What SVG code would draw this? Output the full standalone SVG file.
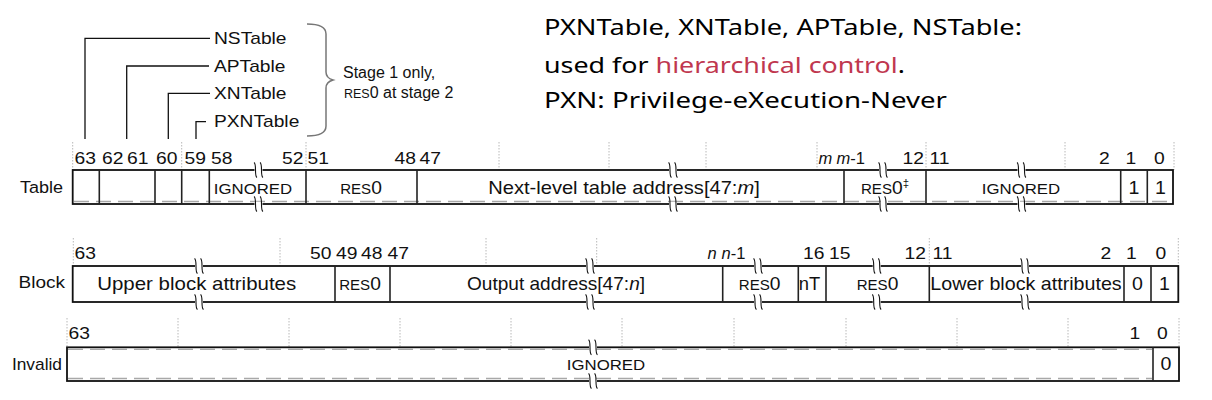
<svg xmlns="http://www.w3.org/2000/svg" width="1212" height="400" viewBox="0 0 1212 400">
<style>
text{font-family:"Liberation Sans",Arial,Helvetica,sans-serif;fill:#111}
.n{font-size:16.5px}
.f{font-size:17.5px}
.r0{font-size:18.5px}
.rs{font-size:14.5px}
.sc{font-size:15px}
.lbl{font-size:16px}
.rl{font-size:17px}
.it{font-style:italic}
.box{fill:#fff;stroke:#111;stroke-width:1.8}
.div{stroke:#222;stroke-width:1.6}
.grid{stroke:#b8b8b8;stroke-width:1;stroke-dasharray:1.5 1.5}
.gd{stroke:#a8a8a8;stroke-width:1.5;stroke-dasharray:15 7;fill:none}
.conn{fill:none;stroke:#111;stroke-width:1.3}
.brace{fill:none;stroke:#777;stroke-width:1.5}
.note{font-family:"Noto Sans","Open Sans",sans-serif;font-size:22px;fill:#000}
.red{fill:#c0374f}
</style>
<defs>
<g id="brk"><rect x="-4" y="-2.2" width="8" height="4.4" fill="#fff"/><path d="M-4.5,-7.5 C-1.5,-6 -4.5,6 -1.5,7.5 M1.5,-7.5 C4.5,-6 1.5,6 4.5,7.5" fill="none" stroke="#111" stroke-width="1.1"/></g>
</defs>
<rect width="1212" height="400" fill="#fff"/>

<!-- notes -->
<g id="notes">
<text class="note" x="544" y="35" textLength="478" lengthAdjust="spacingAndGlyphs">PXNTable, XNTable, APTable, NSTable:</text>
<text class="note" x="544" y="72.5" textLength="361" lengthAdjust="spacingAndGlyphs">used for <tspan class="red">hierarchical control</tspan>.</text>
<text class="note" x="544" y="107.5" textLength="403" lengthAdjust="spacingAndGlyphs">PXN: Privilege-eXecution-Never</text>
</g>

<!-- connectors -->
<g id="connectors">
<path class="conn" d="M85,139 V38.3 H210"/>
<path class="conn" d="M126.7,139 V66 H209"/>
<path class="conn" d="M168.3,139 V93.3 H210"/>
<path class="conn" d="M196,139 V121.7 H206"/>
<path class="brace" d="M307,24 Q326,24 326,34 V72 Q326,78 333,80 Q326,82 326,88 V126 Q326,136 307,136"/>
</g>

<g id="lbl-NSTable"><text class="lbl" transform="translate(214 44) scale(1.2 1)">NSTable</text></g>
<g id="lbl-APTable"><text class="lbl" transform="translate(214 71.7) scale(1.2 1)">APTable</text></g>
<g id="lbl-XNTable"><text class="lbl" transform="translate(214 99) scale(1.2 1)">XNTable</text></g>
<g id="lbl-PXNTable"><text class="lbl" transform="translate(214 127) scale(1.2 1)">PXNTable</text></g>
<g id="lbl-stage">
<text class="lbl" x="343" y="78">Stage 1 only,</text>
<text class="lbl" x="344" y="98"><tspan font-size="12.5">RES</tspan>0 at stage 2</text>
</g>

<!-- Table row -->
<g id="table-row">
<g class="grid-lines">
<line class="grid" x1="72.7" y1="142" x2="72.7" y2="170"/>
<line class="grid" x1="181.7" y1="142" x2="181.7" y2="170"/>
<line class="grid" x1="306" y1="142" x2="306" y2="170"/>
<line class="grid" x1="499" y1="142" x2="499" y2="170"/>
<line class="grid" x1="609" y1="142" x2="609" y2="170"/>
<line class="grid" x1="706" y1="142" x2="706" y2="170"/>
<line class="grid" x1="817" y1="142" x2="817" y2="170"/>
<line class="grid" x1="926" y1="142" x2="926" y2="170"/>
<line class="grid" x1="1065" y1="142" x2="1065" y2="170"/>
<line class="grid" x1="1174" y1="142" x2="1174" y2="170"/>
</g>
<text class="rl" text-anchor="end" transform="translate(63 193) scale(1.06 1)">Table</text>
<rect class="box" x="72.7" y="170" width="1100.3" height="34"/>
<line class="gd" x1="74" y1="201.5" x2="1172" y2="201.5"/>
<g class="dividers">
<line class="div" x1="99.3" y1="170" x2="99.3" y2="204"/>
<line class="div" x1="155" y1="170" x2="155" y2="204"/>
<line class="div" x1="181.7" y1="170" x2="181.7" y2="204"/>
<line class="div" x1="209.3" y1="170" x2="209.3" y2="204"/>
<line class="div" x1="306" y1="170" x2="306" y2="204"/>
<line class="div" x1="417" y1="170" x2="417" y2="204"/>
<line class="div" x1="844" y1="170" x2="844" y2="204"/>
<line class="div" x1="926" y1="170" x2="926" y2="204"/>
<line class="div" x1="1120.7" y1="170" x2="1120.7" y2="204"/>
<line class="div" x1="1147.3" y1="170" x2="1147.3" y2="204"/>
</g>
<use href="#brk" x="258.5" y="170"/><use href="#brk" x="258.5" y="204"/>
<use href="#brk" x="673" y="170"/><use href="#brk" x="673" y="204"/>
<use href="#brk" x="883" y="170"/><use href="#brk" x="883" y="204"/>
<use href="#brk" x="1021.5" y="170"/><use href="#brk" x="1021.5" y="204"/>
<g class="nums">
<text class="n" transform="translate(74.5 164) scale(1.17 1)">63</text>
<text class="n" transform="translate(102 164) scale(1.17 1)">62</text>
<text class="n" transform="translate(127 164) scale(1.17 1)">61</text>
<text class="n" transform="translate(156 164) scale(1.17 1)">60</text>
<text class="n" transform="translate(184.5 164) scale(1.17 1)">59</text>
<text class="n" transform="translate(211 164) scale(1.17 1)">58</text>
<text class="n" transform="translate(282 164) scale(1.17 1)">52</text>
<text class="n" transform="translate(307.5 164) scale(1.17 1)">51</text>
<text class="n" transform="translate(394.5 164) scale(1.17 1)">48</text>
<text class="n" transform="translate(419.5 164) scale(1.17 1)">47</text>
<text class="n it" x="818.5" y="164">m</text>
<text class="n" x="836.5" y="164"><tspan class="it">m</tspan>-1</text>
<text class="n" transform="translate(902.5 164) scale(1.17 1)">12</text>
<text class="n" transform="translate(929.5 164) scale(1.17 1)">11</text>
<text class="n" transform="translate(1099 164) scale(1.17 1)">2</text>
<text class="n" transform="translate(1125.5 164) scale(1.17 1)">1</text>
<text class="n" transform="translate(1154 164) scale(1.17 1)">0</text>
</g>
<g id="t-ignored1"><text class="sc" text-anchor="middle" transform="translate(253 193.5) scale(1.12 1)">IGNORED</text></g>
<g id="t-res0a"><text class="r0" text-anchor="middle" transform="translate(361 193.5) scale(1.04 1)"><tspan class="rs">RES</tspan>0</text></g>
<g id="t-nlta"><text class="f" text-anchor="middle" transform="translate(624 194) scale(1.15 1)">Next-level table address[47:<tspan class="it">m</tspan>]</text></g>
<g id="t-res0b"><text class="r0" text-anchor="middle" transform="translate(885 193.5) scale(1.04 1)"><tspan class="rs">RES</tspan>0<tspan font-size="11" dy="-7">‡</tspan></text></g>
<g id="t-ignored2"><text class="sc" text-anchor="middle" transform="translate(1021 193.5) scale(1.12 1)">IGNORED</text></g>
<g id="t-b1"><text class="f" text-anchor="middle" transform="translate(1134 193.5) scale(1.12 1)">1</text></g>
<g id="t-b0"><text class="f" text-anchor="middle" transform="translate(1160.5 193.5) scale(1.12 1)">1</text></g>
</g>

<!-- Block row -->
<g id="block-row">
<g class="grid-lines">
<line class="grid" x1="73.3" y1="238" x2="73.3" y2="266"/>
<line class="grid" x1="280" y1="238" x2="280" y2="266"/>
<line class="grid" x1="486" y1="238" x2="486" y2="266"/>
<line class="grid" x1="596.7" y1="238" x2="596.7" y2="266"/>
<line class="grid" x1="929.3" y1="238" x2="929.3" y2="266"/>
<line class="grid" x1="1178.3" y1="238" x2="1178.3" y2="266"/>
</g>
<text class="rl" text-anchor="end" transform="translate(65 288) scale(1.12 1)">Block</text>
<rect class="box" x="72.7" y="266" width="1105.6" height="36"/>
<g class="dividers">
<line class="div" x1="335" y1="266" x2="335" y2="302"/>
<line class="div" x1="390" y1="266" x2="390" y2="302"/>
<line class="div" x1="722.7" y1="266" x2="722.7" y2="302"/>
<line class="div" x1="798.3" y1="266" x2="798.3" y2="302"/>
<line class="div" x1="826" y1="266" x2="826" y2="302"/>
<line class="div" x1="929.3" y1="266" x2="929.3" y2="302"/>
<line class="div" x1="1124" y1="266" x2="1124" y2="302"/>
<line class="div" x1="1151" y1="266" x2="1151" y2="302"/>
</g>
<use href="#brk" x="199" y="266"/><use href="#brk" x="199" y="302"/>
<use href="#brk" x="590" y="266"/><use href="#brk" x="590" y="302"/>
<use href="#brk" x="758" y="266"/><use href="#brk" x="758" y="302"/>
<use href="#brk" x="876.7" y="266"/><use href="#brk" x="876.7" y="302"/>
<use href="#brk" x="1025" y="266"/><use href="#brk" x="1025" y="302"/>
<g class="nums">
<text class="n" transform="translate(74.5 259) scale(1.17 1)">63</text>
<text class="n" transform="translate(310 259) scale(1.17 1)">50</text>
<text class="n" transform="translate(336 259) scale(1.17 1)">49</text>
<text class="n" transform="translate(361 259) scale(1.17 1)">48</text>
<text class="n" transform="translate(387.5 259) scale(1.17 1)">47</text>
<text class="n it" x="707.5" y="259">n</text>
<text class="n" x="721.5" y="259"><tspan class="it">n</tspan>-1</text>
<text class="n" transform="translate(803 259) scale(1.17 1)">16</text>
<text class="n" transform="translate(829 259) scale(1.17 1)">15</text>
<text class="n" transform="translate(904.5 259) scale(1.17 1)">12</text>
<text class="n" transform="translate(932.5 259) scale(1.17 1)">11</text>
<text class="n" transform="translate(1100.5 259) scale(1.17 1)">2</text>
<text class="n" transform="translate(1126 259) scale(1.17 1)">1</text>
<text class="n" transform="translate(1155.5 259) scale(1.17 1)">0</text>
</g>
<g id="b-upper"><text class="f" text-anchor="middle" transform="translate(196.7 290) scale(1.17 1)">Upper block attributes</text></g>
<g id="b-res0a"><text class="r0" text-anchor="middle" transform="translate(360 290) scale(1.04 1)"><tspan class="rs">RES</tspan>0</text></g>
<g id="b-oa"><text class="f" text-anchor="middle" transform="translate(556 290) scale(1.09 1)">Output address[47:<tspan class="it">n</tspan>]</text></g>
<g id="b-res0b"><text class="r0" text-anchor="middle" transform="translate(759.7 290) scale(1.04 1)"><tspan class="rs">RES</tspan>0</text></g>
<g id="b-nt"><text class="f" text-anchor="middle" transform="translate(809.5 290) scale(1.05 1)">nT</text></g>
<g id="b-res0c"><text class="r0" text-anchor="middle" transform="translate(877.5 290) scale(1.04 1)"><tspan class="rs">RES</tspan>0</text></g>
<g id="b-lower"><text class="f" text-anchor="middle" transform="translate(1026 290) scale(1.125 1)">Lower block attributes</text></g>
<g id="b-b1"><text class="f" text-anchor="middle" transform="translate(1137.5 290) scale(1.12 1)">0</text></g>
<g id="b-b0"><text class="f" text-anchor="middle" transform="translate(1164.5 290) scale(1.12 1)">1</text></g>
</g>

<!-- Invalid row -->
<g id="invalid-row">
<g class="grid-lines">
<line class="grid" x1="67" y1="318" x2="67" y2="347"/>
<line class="grid" x1="178" y1="318" x2="178" y2="347"/>
<line class="grid" x1="289" y1="318" x2="289" y2="347"/>
<line class="grid" x1="400" y1="318" x2="400" y2="347"/>
<line class="grid" x1="511" y1="318" x2="511" y2="347"/>
<line class="grid" x1="622" y1="318" x2="622" y2="347"/>
<line class="grid" x1="734" y1="318" x2="734" y2="347"/>
<line class="grid" x1="846" y1="318" x2="846" y2="347"/>
<line class="grid" x1="957" y1="318" x2="957" y2="347"/>
<line class="grid" x1="1068" y1="318" x2="1068" y2="347"/>
<line class="grid" x1="1179" y1="318" x2="1179" y2="347"/>
</g>
<text class="rl" text-anchor="end" transform="translate(62 370) scale(1.02 1)">Invalid</text>
<rect class="box" x="67" y="347.3" width="1112" height="33.7"/>
<line class="gd" x1="68" y1="349.3" x2="1152" y2="349.3"/>
<line class="gd" x1="68" y1="378.6" x2="1152" y2="378.6"/>
<line class="div" x1="1153" y1="347.3" x2="1153" y2="381"/>
<use href="#brk" x="593" y="347.3"/><use href="#brk" x="593" y="381"/>
<text class="n" transform="translate(68.5 339) scale(1.17 1)">63</text>
<text class="n" transform="translate(1129.5 339) scale(1.17 1)">1</text>
<text class="n" transform="translate(1157 339) scale(1.17 1)">0</text>
<g id="i-ignored"><text class="sc" text-anchor="middle" transform="translate(606 370) scale(1.12 1)">IGNORED</text></g>
<g id="i-b0"><text class="f" text-anchor="middle" transform="translate(1166 370) scale(1.12 1)">0</text></g>
</g>
</svg>
